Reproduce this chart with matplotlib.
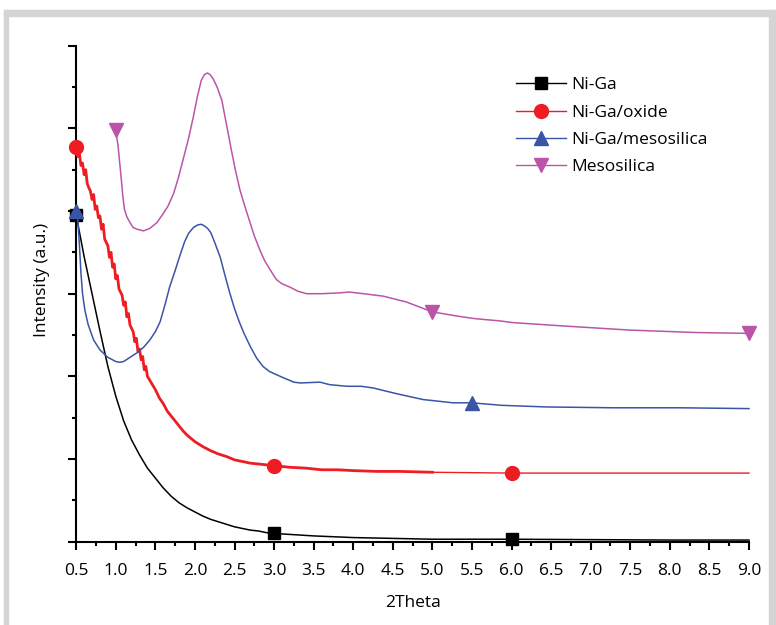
import numpy as np
import matplotlib
matplotlib.use("Agg")
import matplotlib.pyplot as plt
from matplotlib.patches import Rectangle
from matplotlib.ticker import MultipleLocator

plt.rcParams["font.family"] = ["Open Sans", "DejaVu Sans"]

# Ni-Ga
niga_x = [0.5, 0.6, 0.7, 0.8, 0.9, 1.0, 1.1, 1.2, 1.3, 1.4, 1.5, 1.6, 1.7, 1.8,
          1.9, 2.0, 2.1, 2.2, 2.3, 2.4, 2.5, 2.6, 2.7, 2.8, 2.9, 3.0, 3.25, 3.5,
          3.75, 4.0, 4.5, 5.0, 6.0, 7.0, 8.0, 9.0]
niga_y = [3.95, 3.45, 3.0, 2.55, 2.12, 1.76, 1.46, 1.23, 1.05, 0.89, 0.77, 0.65,
          0.55, 0.47, 0.41, 0.36, 0.31, 0.27, 0.24, 0.21, 0.18, 0.16, 0.14, 0.13,
          0.11, 0.10, 0.085, 0.07, 0.06, 0.05, 0.04, 0.03, 0.03, 0.025, 0.02, 0.02]
niga_marks = [0.5, 3.0, 6.0]

# Ni-Ga/oxide (noisy measured part, then flat tail)
oxide_x = [0.5, 0.52, 0.54, 0.56, 0.58, 0.6, 0.62, 0.64, 0.66, 0.68, 0.7, 0.72,
           0.74, 0.76, 0.78, 0.8, 0.82, 0.84, 0.86, 0.88, 0.9, 0.92, 0.94, 0.96,
           0.98, 1.0, 1.02, 1.04, 1.06, 1.08, 1.1, 1.12, 1.14, 1.16, 1.18, 1.2,
           1.22, 1.24, 1.26, 1.28, 1.3, 1.32, 1.34, 1.36, 1.38, 1.4, 1.45, 1.5,
           1.55, 1.6, 1.65, 1.7, 1.75, 1.8, 1.85, 1.9, 1.95, 2.0, 2.1, 2.2, 2.3,
           2.4, 2.5, 2.6, 2.7, 2.8, 2.9, 3.0, 3.2, 3.4, 3.6, 3.8, 4.0, 4.3, 4.6,
           5.0]
oxide_y = [4.78, 4.66, 4.70, 4.55, 4.58, 4.44, 4.50, 4.33, 4.28, 4.24, 4.14, 4.20,
           4.02, 4.06, 3.92, 3.94, 3.78, 3.84, 3.66, 3.62, 3.58, 3.44, 3.50, 3.32,
           3.36, 3.18, 3.22, 3.06, 3.02, 2.98, 2.86, 2.90, 2.72, 2.76, 2.62, 2.58,
           2.54, 2.42, 2.46, 2.30, 2.33, 2.20, 2.24, 2.08, 2.12, 2.00, 1.92, 1.84,
           1.74, 1.67, 1.58, 1.52, 1.46, 1.40, 1.34, 1.29, 1.25, 1.21, 1.15, 1.10,
           1.06, 1.03, 0.99, 0.97, 0.95, 0.94, 0.93, 0.92, 0.90, 0.89, 0.87, 0.87,
           0.86, 0.85, 0.85, 0.84]
oxide_tail_x = [5.0, 6.0, 9.0]
oxide_tail_y = [0.84, 0.83, 0.83]
oxide_marks = [0.5, 3.0]
oxide_tail_marks = [6.0]

# Ni-Ga/mesosilica
meso_x = [0.5, 0.52, 0.54, 0.56, 0.58, 0.61, 0.65, 0.72, 0.8, 0.9, 1.0, 1.05, 1.1,
          1.18, 1.26, 1.35, 1.43, 1.5, 1.56, 1.62, 1.68, 1.75, 1.81, 1.87, 1.92,
          1.98, 2.03, 2.08, 2.12, 2.16, 2.2, 2.25, 2.32, 2.38, 2.44, 2.5, 2.56,
          2.62, 2.7, 2.78, 2.86, 2.94, 3.03, 3.15, 3.25, 3.33, 3.58, 3.7, 3.92,
          4.1, 4.25, 4.55, 4.88, 5.26, 5.5, 5.87, 6.44, 7.28, 8.12, 9.0]
meso_y = [4.0, 3.90, 3.60, 3.25, 3.00, 2.80, 2.63, 2.44, 2.32, 2.23, 2.18, 2.17,
          2.18, 2.23, 2.28, 2.35, 2.44, 2.54, 2.66, 2.86, 3.08, 3.28, 3.46, 3.63,
          3.73, 3.80, 3.83, 3.84, 3.82, 3.79, 3.74, 3.62, 3.44, 3.22, 3.01, 2.82,
          2.66, 2.52, 2.36, 2.22, 2.12, 2.06, 2.02, 1.97, 1.93, 1.92, 1.93, 1.90,
          1.88, 1.88, 1.86, 1.79, 1.72, 1.68, 1.68, 1.65, 1.63, 1.62, 1.62, 1.61]
meso_marks = [0.5, 5.5]

# Mesosilica
sil_x = [1.0, 1.03, 1.05, 1.07, 1.09, 1.11, 1.14, 1.18, 1.22, 1.27, 1.35, 1.43,
         1.52, 1.6, 1.66, 1.73, 1.79, 1.85, 1.92, 1.98, 2.03, 2.08, 2.12, 2.16,
         2.19, 2.23, 2.28, 2.34, 2.4, 2.46, 2.51, 2.57, 2.63, 2.69, 2.75, 2.82,
         2.88, 2.95, 3.03, 3.1, 3.2, 3.3, 3.41, 3.6, 3.83, 3.95, 4.13, 4.38, 4.67,
         5.0, 5.31, 5.52, 5.86, 6.02, 6.65, 7.49, 8.34, 9.0]
sil_y = [4.98, 4.78, 4.58, 4.38, 4.17, 4.02, 3.93, 3.86, 3.80, 3.78, 3.76, 3.79,
         3.86, 3.97, 4.06, 4.21, 4.40, 4.62, 4.88, 5.14, 5.38, 5.58, 5.65, 5.67,
         5.65, 5.60, 5.50, 5.34, 5.04, 4.74, 4.50, 4.25, 4.06, 3.88, 3.70, 3.53,
         3.40, 3.29, 3.17, 3.12, 3.08, 3.03, 3.00, 3.00, 3.01, 3.02, 3.00, 2.97,
         2.90, 2.78, 2.73, 2.70, 2.67, 2.65, 2.61, 2.56, 2.53, 2.52]
sil_marks = [1.0, 5.0, 9.0]

black = "#000000"
red = "#ee1d24"
blue = "#3a55a6"
magenta = "#bb55a8"


def idx(xs, marks):
    return [xs.index(m) for m in marks]


fig = plt.figure(figsize=(7.76, 6.25), dpi=100)

# light gray frame around the figure
for r in [(4 / 776, 0, 4 / 776, 615 / 625),
          (4 / 776, 609 / 625, 772 / 776, 6 / 625),
          (769 / 776, 0, 6 / 776, 615 / 625)]:
    fig.patches.append(Rectangle(r[:2], r[2], r[3], transform=fig.transFigure,
                                 color="#d4d4d4", zorder=0))

ax = fig.add_axes([76.2 / 776, 83.3 / 625, (749 - 76.2) / 776, (541.7 - 45.7) / 625])

ax.plot(niga_x, niga_y, color=black, lw=1.1, marker="s", ms=8,
        markevery=idx(niga_x, niga_marks), clip_on=False, zorder=3)
ax.plot(oxide_x, oxide_y, color=red, lw=2.0, marker="o", ms=10,
        markevery=idx(oxide_x, oxide_marks), clip_on=False, zorder=3)
ax.plot(oxide_tail_x, oxide_tail_y, color=red, lw=1.0, marker="o", ms=10,
        markevery=idx(oxide_tail_x, oxide_tail_marks), clip_on=False, zorder=3)
ax.plot(meso_x, meso_y, color=blue, lw=1.1, marker="^", ms=10,
        markevery=idx(meso_x, meso_marks), clip_on=False, zorder=4)
ax.plot(sil_x, sil_y, color=magenta, lw=1.1, marker="v", ms=10,
        markevery=idx(sil_x, sil_marks), clip_on=False, zorder=3)

# legend handles
handles = [
    ax.plot([], [], color=black, lw=1.0, marker="s", ms=8)[0],
    ax.plot([], [], color=red, lw=1.0, marker="o", ms=10)[0],
    ax.plot([], [], color=blue, lw=1.0, marker="^", ms=10)[0],
    ax.plot([], [], color=magenta, lw=1.0, marker="v", ms=10)[0],
]
labels = ["Ni-Ga", "Ni-Ga/oxide", "Ni-Ga/mesosilica", "Mesosilica"]
fig.legend(handles, labels, loc="upper left", bbox_to_anchor=(516 / 776, 1 - 77 / 625),
           frameon=False, fontsize=12.5, handlelength=2.9, handletextpad=0.3,
           labelspacing=0.65, borderpad=0, borderaxespad=0)

ax.set_xlim(0.5, 9.0)
ax.set_ylim(0, 6)
ax.xaxis.set_minor_locator(MultipleLocator(0.25))
ax.yaxis.set_major_locator(MultipleLocator(1))
ax.yaxis.set_minor_locator(MultipleLocator(0.5))
ax.set_xticks(np.arange(0.5, 9.01, 0.5))
ax.set_xticklabels([f"{v:.1f}" for v in np.arange(0.5, 9.01, 0.5)])
ax.set_yticklabels([])

for s in ["top", "right"]:
    ax.spines[s].set_visible(False)
for s in ["left", "bottom"]:
    ax.spines[s].set_linewidth(1.5)
ax.tick_params(which="major", length=6, width=1.5, labelsize=12.5, pad=9.5)
ax.tick_params(which="minor", length=3, width=1.5)

ax.set_xlabel("2Theta", fontsize=12.5, labelpad=11)
ax.set_ylabel("Intensity (a.u.)", fontsize=12.5)
ax.yaxis.set_label_coords(-0.039, 0.528)

fig.savefig("out.png", dpi=100)
